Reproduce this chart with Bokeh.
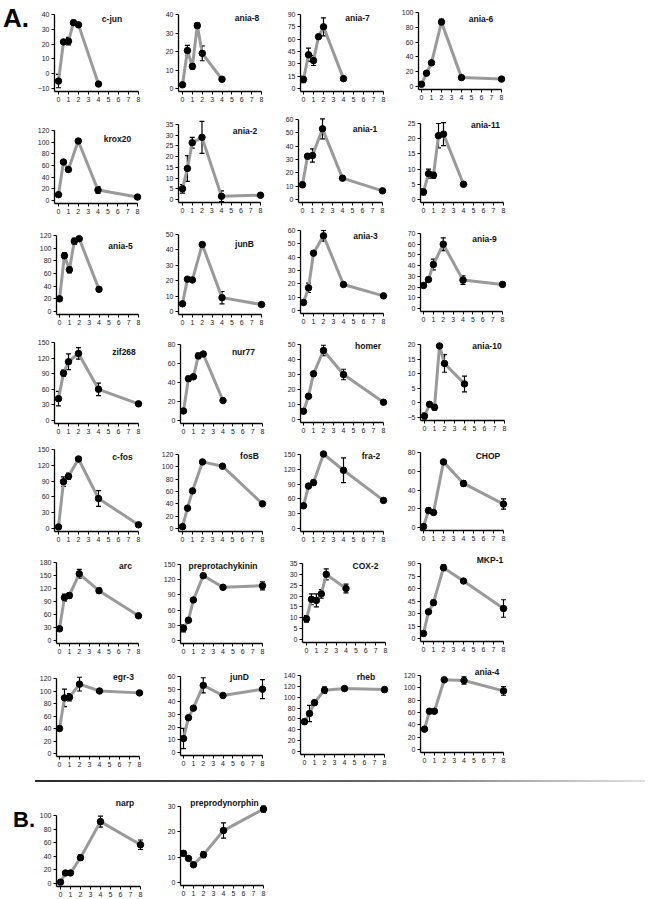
from bokeh.plotting import figure
from bokeh.layouts import row, column
from bokeh.models import Range1d, FixedTicker, Label, Whisker, TeeHead, ColumnDataSource, Spacer, Div
from bokeh.embed import file_html
from bokeh.resources import INLINE

# ---------------- data (hours after stimulation vs. expression) ----------------
X_TICKS = [0, 1, 2, 3, 4, 5, 6, 7, 8]

cjun_x = [0, 0.5, 1, 1.5, 2, 4]
cjun_y = [-5, 21.5, 22, 34.5, 33, -7]
cjun_e = [4.5, 1, 2.5, 1.5, 1.5, 1.5]
cjun_t = [-10, 0, 10, 20, 30, 40]

ania8_x = [0, 0.5, 1, 1.5, 2, 4]
ania8_y = [2, 20.5, 12, 34, 19, 5]
ania8_e = [0.5, 2.8, 1.5, 1.5, 4, 0.8]
ania8_t = [0, 10, 20, 30, 40]

ania7_x = [0, 0.5, 1, 1.5, 2, 4]
ania7_y = [11, 41, 34, 63, 75, 12]
ania7_e = [4, 8, 6, 2, 11, 1]
ania7_t = [0, 15, 30, 45, 60, 75, 90]

ania6_x = [0, 0.5, 1, 2, 4, 8]
ania6_y = [3, 18, 32, 87, 12, 10]
ania6_e = [2, 2, 2.5, 4, 2, 1.5]
ania6_t = [0, 20, 40, 60, 80, 100]

krox20_x = [0, 0.5, 1, 2, 4, 8]
krox20_y = [10, 66, 53, 102, 18, 6]
krox20_e = [2, 3, 2, 1.5, 6, 1]
krox20_t = [0, 20, 40, 60, 80, 100, 120]

ania2_x = [0, 0.5, 1, 2, 4, 8]
ania2_y = [5, 14.5, 26.5, 29, 1.5, 2]
ania2_e = [2, 6, 2.5, 7.5, 2.5, 0.8]
ania2_t = [0, 5, 10, 15, 20, 25, 30, 35]

ania1_x = [0, 0.5, 1, 2, 4, 8]
ania1_y = [11, 32.5, 33, 53, 16, 6.5]
ania1_e = [2, 2, 5, 7.5, 1.5, 0.8]
ania1_t = [0, 10, 20, 30, 40, 50, 60]

ania11_x = [0, 0.5, 1, 1.5, 2, 4]
ania11_y = [2.5, 8.5, 8, 21, 21.5, 5]
ania11_e = [1, 1.5, 1, 4, 3.8, 0.5]
ania11_t = [0, 5, 10, 15, 20, 25]

ania5_x = [0, 0.5, 1, 1.5, 2, 4]
ania5_y = [20, 88, 66, 111, 115, 35]
ania5_e = [1, 5, 5, 5, 3, 3]
ania5_t = [0, 20, 40, 60, 80, 100, 120]

junB_x = [0, 0.5, 1, 2, 4, 8]
junB_y = [5, 21, 20.5, 43.5, 9, 4.5]
junB_e = [0.5, 0.5, 0.5, 0.5, 4, 0.5]
junB_t = [0, 10, 20, 30, 40, 50]

ania3_x = [0, 0.5, 1, 2, 4, 8]
ania3_y = [6, 17, 43, 56, 19.5, 11]
ania3_e = [1, 3.5, 1.5, 4, 1.5, 0.8]
ania3_t = [0, 10, 20, 30, 40, 50, 60]

ania9_x = [0, 0.5, 1, 2, 4, 8]
ania9_y = [21.5, 27, 41, 60, 26.5, 22.5]
ania9_e = [1, 1.5, 5, 6, 4, 1]
ania9_t = [0, 10, 20, 30, 40, 50, 60, 70]

zif268_x = [0, 0.5, 1, 2, 4, 8]
zif268_y = [42, 91, 113, 129, 60, 32]
zif268_e = [14, 6, 15, 11, 12, 4]
zif268_t = [0, 30, 60, 90, 120, 150]

nur77_x = [0, 0.5, 1, 1.5, 2, 4]
nur77_y = [10, 44, 46, 68, 70, 21]
nur77_e = [1, 2.5, 1.5, 3, 1, 1]
nur77_t = [0, 20, 40, 60, 80]

homer_x = [0, 0.5, 1, 2, 4, 8]
homer_y = [5.5, 15.5, 30.5, 46, 30, 11.5]
homer_e = [1, 1, 1.5, 3.5, 3.5, 0.5]
homer_t = [0, 10, 20, 30, 40, 50]

ania10_x = [0, 0.5, 1, 1.5, 2, 4]
ania10_y = [-4.5, -0.5, -1.5, 19.5, 13.5, 6.5]
ania10_e = [1, 0.5, 1, 0.8, 3, 2.7]
ania10_t = [-5, 0, 5, 10, 15, 20]

cfos_x = [0, 0.5, 1, 2, 4, 8]
cfos_y = [3, 89, 99, 132, 57, 7]
cfos_e = [1, 9, 6, 2, 15, 1]
cfos_t = [0, 30, 60, 90, 120, 150]

fosB_x = [0, 0.5, 1, 2, 4, 8]
fosB_y = [3, 33, 61, 108, 101, 40]
fosB_e = [1, 3.5, 1, 2, 1.5, 3.5]
fosB_t = [0, 20, 40, 60, 80, 100, 120]

fra2_x = [0, 0.5, 1, 2, 4, 8]
fra2_y = [46, 86, 93, 151, 118, 57]
fra2_e = [1, 1, 5, 4, 25, 2]
fra2_t = [0, 30, 60, 90, 120, 150]

chop_x = [0, 0.5, 1, 2, 4, 8]
chop_y = [1, 18, 16, 70, 47, 25]
chop_e = [1, 3, 2, 1, 3, 5.5]
chop_t = [0, 20, 40, 60, 80]

arc_x = [0, 0.5, 1, 2, 4, 8]
arc_y = [27, 99, 104, 154, 115, 57]
arc_e = [2, 8, 6, 10, 6, 2]
arc_t = [0, 30, 60, 90, 120, 150, 180]

pptk_x = [0, 0.5, 1, 2, 4, 8]
pptk_y = [24, 40, 80, 128, 105, 108]
pptk_e = [7, 2, 2, 1, 2, 8]
pptk_t = [0, 30, 60, 90, 120, 150]

cox2_x = [0, 0.5, 1, 1.5, 2, 4]
cox2_y = [9.5, 18.5, 18, 21, 30, 23.5]
cox2_e = [1.5, 2.5, 3, 2, 2.5, 2]
cox2_t = [0, 5, 10, 15, 20, 25, 30, 35]

mkp1_x = [0, 0.5, 1, 2, 4, 8]
mkp1_y = [6, 32, 43, 85, 69, 36]
mkp1_e = [1.5, 1.5, 3, 3.5, 1.5, 10.5]
mkp1_t = [0, 15, 30, 45, 60, 75, 90]

egr3_x = [0, 0.5, 1, 2, 4, 8]
egr3_y = [40, 89, 90, 111, 100, 97]
egr3_e = [1, 14, 6, 11, 2, 1]
egr3_t = [0, 20, 40, 60, 80, 100, 120]

junD_x = [0, 0.5, 1, 2, 4, 8]
junD_y = [11, 27.5, 35, 53, 45, 50]
junD_e = [8, 1.5, 1, 6, 1, 7.5]
junD_t = [0, 10, 20, 30, 40, 50, 60]

rheb_x = [0, 0.5, 1, 2, 4, 8]
rheb_y = [55, 70, 90, 113, 116, 114]
rheb_e = [4, 15, 4, 6, 2, 4]
rheb_t = [0, 20, 40, 60, 80, 100, 120, 140]

ania4_x = [0, 0.5, 1, 2, 4, 8]
ania4_y = [33, 62, 62, 113, 112, 95]
ania4_e = [3, 3, 2, 3, 6, 7]
ania4_t = [0, 20, 40, 60, 80, 100, 120]

narp_x = [0, 0.5, 1, 2, 4, 8]
narp_y = [2, 15.5, 15.5, 38, 91, 57]
narp_e = [2, 1, 3, 4, 8, 7]
narp_t = [0, 20, 40, 60, 80, 100]

ppdyn_x = [0, 0.5, 1, 2, 4, 8]
ppdyn_y = [11.5, 9.5, 7, 11, 20.5, 29]
ppdyn_e = [1, 0.7, 0.5, 1.2, 3, 1.2]
ppdyn_t = [0, 10, 20, 30]

ROWS_A = [
    [("c-jun", cjun_x, cjun_y, cjun_e, cjun_t), ("ania-8", ania8_x, ania8_y, ania8_e, ania8_t),
     ("ania-7", ania7_x, ania7_y, ania7_e, ania7_t), ("ania-6", ania6_x, ania6_y, ania6_e, ania6_t)],
    [("krox20", krox20_x, krox20_y, krox20_e, krox20_t), ("ania-2", ania2_x, ania2_y, ania2_e, ania2_t),
     ("ania-1", ania1_x, ania1_y, ania1_e, ania1_t), ("ania-11", ania11_x, ania11_y, ania11_e, ania11_t)],
    [("ania-5", ania5_x, ania5_y, ania5_e, ania5_t), ("junB", junB_x, junB_y, junB_e, junB_t),
     ("ania-3", ania3_x, ania3_y, ania3_e, ania3_t), ("ania-9", ania9_x, ania9_y, ania9_e, ania9_t)],
    [("zif268", zif268_x, zif268_y, zif268_e, zif268_t), ("nur77", nur77_x, nur77_y, nur77_e, nur77_t),
     ("homer", homer_x, homer_y, homer_e, homer_t), ("ania-10", ania10_x, ania10_y, ania10_e, ania10_t)],
    [("c-fos", cfos_x, cfos_y, cfos_e, cfos_t), ("fosB", fosB_x, fosB_y, fosB_e, fosB_t),
     ("fra-2", fra2_x, fra2_y, fra2_e, fra2_t), ("CHOP", chop_x, chop_y, chop_e, chop_t)],
    [("arc", arc_x, arc_y, arc_e, arc_t), ("preprotachykinin", pptk_x, pptk_y, pptk_e, pptk_t),
     ("COX-2", cox2_x, cox2_y, cox2_e, cox2_t), ("MKP-1", mkp1_x, mkp1_y, mkp1_e, mkp1_t)],
    [("egr-3", egr3_x, egr3_y, egr3_e, egr3_t), ("junD", junD_x, junD_y, junD_e, junD_t),
     ("rheb", rheb_x, rheb_y, rheb_e, rheb_t), ("ania-4", ania4_x, ania4_y, ania4_e, ania4_t)],
]
ROW_B = [("narp", narp_x, narp_y, narp_e, narp_t),
         ("preprodynorphin", ppdyn_x, ppdyn_y, ppdyn_e, ppdyn_t)]

# ---------------- layout (pixel geometry, page coordinates) ----------------
# per panel: x of tick 0, x of tick 8, y of top tick, y of bottom tick
GEOM_A = [
    [(58, 138, 14, 88), (182, 261, 14, 88), (303, 383, 14, 88), (421, 501, 12, 86)],
    [(58, 137, 130, 200), (182, 260, 124, 199), (302, 382, 119, 199), (423, 503, 123, 199)],
    [(59, 138, 235, 311), (182, 261, 234, 311), (303, 383, 230, 310), (423, 502, 233, 308)],
    [(58, 138, 342, 420), (183, 262, 344, 420), (303, 383, 344, 419), (424, 504, 344, 417)],
    [(58, 138, 449, 528), (182, 262, 454, 528), (303, 383, 454, 528), (423, 503, 452, 527)],
    [(59, 138, 562, 640), (183, 262, 564, 640), (306, 385, 563, 639), (423, 503, 563, 638)],
    [(59, 139, 678, 753), (183, 262, 676, 752), (304, 384, 675, 751), (424, 503, 675, 749)],
]
GEOM_B = [(60, 140, 815, 883), (183, 263, 806, 882)]
# title label: centre x, centre y
TPOS_A = [
    [(111.5, 18), (246.5, 17), (357, 17), (480.5, 18)],
    [(117, 138), (244.5, 130), (364.5, 128), (485, 124)],
    [(120, 245), (244, 243), (365, 235), (484, 238)],
    [(123.5, 351), (243, 351), (367.5, 345), (486.5, 345)],
    [(122, 456), (249, 455), (370.5, 455), (487.5, 455)],
    [(125, 565), (222.5, 565), (365, 565), (489.5, 559)],
    [(123, 676), (239, 676), (365.5, 676), (486.5, 671)],
]
TPOS_B = [(124.5, 802), (224, 802)]
ROW_SLOTS = [(0, 110), (110, 219), (219, 329), (329, 437), (437, 548), (548, 660), (660, 772)]
B_SLOT = (790, 897)
COL_SLOTS = [(0, 150), (150, 274), (274, 395), (395, 520)]
LEAD_W = 34  # width of the column holding the "A." / "B." panel letters

LINE_GREY = "#9a9a9a"
FONT = "Liberation Sans"


def make_panel(spec, geom, tpos, col_slot, row_slot):
    title, xs, ys, es, yticks = spec
    x0, x8, yt, yb = geom
    pxu = (x8 - x0) / 8.0
    ymin, ymax = yticks[0], yticks[-1]
    pyu = (yb - yt) / float(ymax - ymin)
    sl, sr = col_slot
    st, sb = row_slot
    fl = int(round(x0 - 3.5))
    fr = sr - 1
    ft = st + 1
    fb = int(round(yb + 3))
    xr = Range1d((fl - x0) / pxu, 8 + (fr - x8) / pxu)
    yr = Range1d(ymin - (fb - yb) / pyu, ymax + (yt - ft) / pyu)
    p = figure(title=None, frame_width=fr - fl, frame_height=fb - ft,
               min_border_left=fl - sl, min_border_right=sr - fr,
               min_border_top=ft - st, min_border_bottom=sb - fb,
               x_range=xr, y_range=yr, output_backend="svg", toolbar_location=None,
               background_fill_color="white", border_fill_color="white")
    p.outline_line_color = None
    p.grid.visible = False
    p.xaxis.ticker = FixedTicker(ticks=X_TICKS)
    p.yaxis.ticker = FixedTicker(ticks=yticks)
    p.xaxis.bounds = (xr.start, 8)
    p.yaxis.bounds = (yr.start, ymax)
    for ax in (p.xaxis[0], p.yaxis[0]):
        ax.axis_line_color = "black"
        ax.axis_line_width = 1.3
        ax.major_tick_line_color = "black"
        ax.major_tick_line_width = 1
        ax.major_tick_in = 0
        ax.major_tick_out = 3
        ax.minor_tick_line_color = None
        ax.major_label_text_font = FONT
        ax.major_label_text_font_size = "7px"
        ax.major_label_text_color = "#222222"
        ax.major_label_standoff = 2

    lo = [y - e for y, e in zip(ys, es)]
    hi = [y + e for y, e in zip(ys, es)]
    src = ColumnDataSource(dict(x=xs, y=ys, lower=lo, upper=hi))
    p.line("x", "y", source=src, line_color=LINE_GREY, line_width=3, line_join="round")
    p.add_layout(Whisker(source=src, base="x", lower="lower", upper="upper", dimension="height",
                         line_color="black", line_width=1.2,
                         upper_head=TeeHead(size=5, line_color="black", line_width=1.2),
                         lower_head=TeeHead(size=5, line_color="black", line_width=1.2)))
    p.scatter("x", "y", source=src, size=6.5, fill_color="black", line_color="black")

    tx, ty = tpos
    p.add_layout(Label(x=(tx - x0) / pxu, y=ymax - (ty - yt) / pyu, text=title,
                       text_align="center", text_baseline="middle", text_font=FONT,
                       text_font_style="bold", text_font_size="8.5px", text_color="#111111"))
    return p


def letter(txt, size, left, top, height):
    html = ('<div style="font-family:\'Liberation Sans\',Arial,sans-serif;font-weight:bold;'
            'font-size:%dpx;line-height:%dpx;padding-left:%dpx;padding-top:%dpx;color:#000;">%s</div>'
            % (size, size, left, top, txt))
    return Div(text=html, width=LEAD_W, height=height, margin=0)


rows = []
for r, (specs, geoms, tposs) in enumerate(zip(ROWS_A, GEOM_A, TPOS_A)):
    figs = []
    if r == 0:
        figs.append(letter("A.", 26, 3, 5, ROW_SLOTS[0][1] - ROW_SLOTS[0][0]))
    for c, (spec, g, tp) in enumerate(zip(specs, geoms, tposs)):
        cs = COL_SLOTS[c]
        if r == 0 and c == 0:
            cs = (LEAD_W, cs[1])
        figs.append(make_panel(spec, g, tp, cs, ROW_SLOTS[r]))
    rows.append(row(*figs, spacing=0))

sep = Div(text="", width=610, height=2, margin=0,
          styles={"background": "linear-gradient(to right, #2b2b2b, #666666 55%, #bbbbbb 85%, #e0e0e0)"})
rows.append(Spacer(width=10, height=8))
rows.append(row(Spacer(width=35, height=2), sep, spacing=0))
rows.append(Spacer(width=10, height=8))

figsB = [letter("B.", 22, 13, 19, B_SLOT[1] - B_SLOT[0])]
for c, (spec, g, tp) in enumerate(zip(ROW_B, GEOM_B, TPOS_B)):
    cs = COL_SLOTS[c]
    if c == 0:
        cs = (LEAD_W, cs[1])
    figsB.append(make_panel(spec, g, tp, cs, B_SLOT))
rows.append(row(*figsB, spacing=0))

layout = column(*rows, spacing=0)

with open("out.html", "w") as f:
    f.write(file_html(layout, INLINE, title="Gene induction time courses"))
